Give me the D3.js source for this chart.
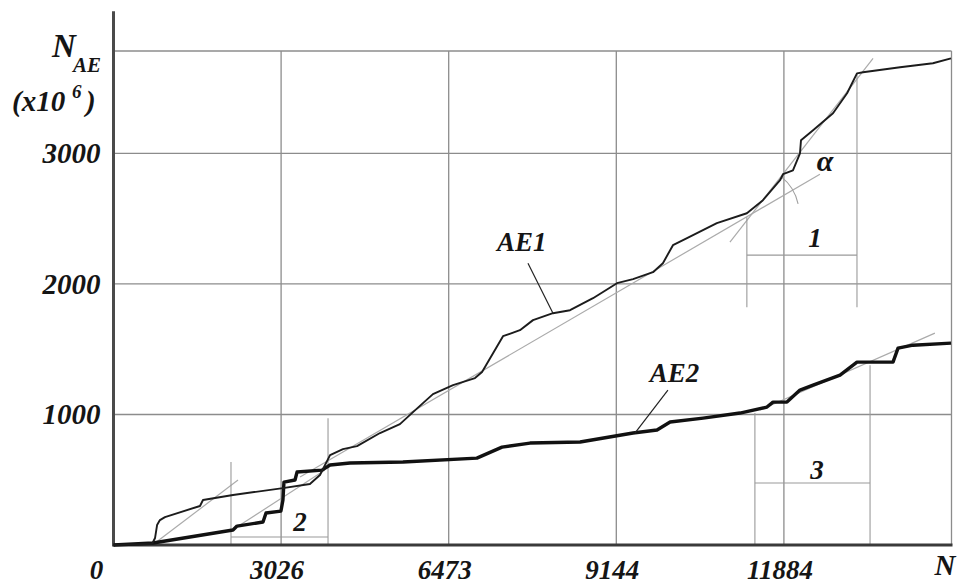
<!DOCTYPE html>
<html><head><meta charset="utf-8">
<script src="https://cdn.jsdelivr.net/npm/d3@7"></script>
<style>
body{margin:0;background:#fff}
svg{display:block}
text{font-family:"Liberation Serif","Times New Roman",serif;font-style:italic;font-weight:bold;fill:#151515}
</style>
</head><body><svg id="c" width="958" height="587"></svg>
<script>
// x is the position along N in grid intervals (0..5); tick labels give the N values at the grid lines
const xTickPos = [0, 1, 2, 3, 4];
const xTickLabels = ["0", "3026", "6473", "9144", "11884"];
const xGrid = [1, 2, 3, 4, 5];
const yTicks = [1000, 2000, 3000];
const yGrid = [1000, 2000, 3000, 3785];
const yTop = 3785;
const yAxisTop = 4090;

// AE1 cumulative count (x10^6)
const ae1X = [0, 0.23, 0.248, 0.26, 0.277, 0.307, 0.516, 0.534, 0.713, 1.011, 1.172, 1.232, 1.292, 1.369, 1.453, 1.59, 1.709, 1.787, 1.906, 2.026, 2.157, 2.199, 2.324, 2.425, 2.503, 2.622, 2.724, 2.861, 3.004, 3.1, 3.219, 3.278, 3.338, 3.422, 3.6, 3.779, 3.875, 3.977, 3.995, 4.054, 4.096, 4.102, 4.174, 4.293, 4.377, 4.436, 4.472, 4.693, 4.889, 4.997];
const ae1Y = [0, 8, 54, 153, 191, 214, 299, 345, 383, 436, 467, 536, 689, 735, 758, 858, 926, 1018, 1156, 1225, 1279, 1325, 1600, 1646, 1723, 1776, 1799, 1891, 2006, 2037, 2090, 2159, 2297, 2351, 2466, 2542, 2642, 2795, 2841, 2871, 3001, 3101, 3178, 3308, 3461, 3614, 3622, 3660, 3691, 3729];

// AE2 cumulative count (x10^6)
const ae2X = [0, 0.236, 0.713, 0.737, 0.892, 0.91, 0.999, 1.011, 1.017, 1.083, 1.095, 1.244, 1.292, 1.411, 1.727, 2.168, 2.318, 2.485, 2.784, 3.1, 3.243, 3.321, 3.518, 3.738, 3.899, 3.935, 4.018, 4.096, 4.174, 4.335, 4.436, 4.651, 4.681, 4.77, 4.997];
const ae2Y = [0, 15, 115, 145, 176, 245, 260, 345, 482, 498, 559, 574, 613, 628, 636, 666, 750, 781, 789, 858, 881, 942, 972, 1011, 1057, 1095, 1095, 1187, 1225, 1302, 1401, 1401, 1508, 1531, 1547];

// tangent (gray) lines: [x1, y1, x2, y2]
const tangents = [
  [0.248, 15, 0.743, 498],
  [0.755, 153, 1.262, 574],
  [1.113, 521, 4.215, 2841],
  [3.678, 2320, 4.532, 3729],
  [3.857, 1034, 4.901, 1623]
];
// interval brackets: [xLeft, xRight, yBar, yLeftTop, yRightTop, yBottom]
const brackets = [
  [3.779, 4.436, 2221, 2512, 3614, 1822],
  [0.701, 1.280, 61, 636, 972, 0],
  [3.827, 4.514, 475, 1011, 1378, 0]
];
const bracketLabels = ["1", "2", "3"];
const bracketLabelX = [4.186, 1.113, 4.198];
const bracketLabelY = [2351, 176, 574];

const svg = d3.select("#c");
const x = d3.scaleLinear().domain([0, 5]).range([113.5, 951.5]);
const y = d3.scaleLinear().domain([0, yTop]).range([545, 51]);

// grid
const g = svg.append("g").attr("stroke", "#8c8c8c").attr("stroke-width", 1.3);
g.selectAll(".vg").data(xGrid).join("line")
  .attr("x1", d => x(d)).attr("x2", d => x(d)).attr("y1", y(0)).attr("y2", y(yTop));
g.selectAll(".hg").data(yGrid).join("line")
  .attr("x1", x(0)).attr("x2", x(5)).attr("y1", d => y(d)).attr("y2", d => y(d));

// tangents
svg.append("g").attr("stroke", "#ababab").attr("stroke-width", 1.2)
  .selectAll("line").data(tangents).join("line")
  .attr("x1", d => x(d[0])).attr("y1", d => y(d[1])).attr("x2", d => x(d[2])).attr("y2", d => y(d[3]));

// brackets
const bg = svg.append("g").attr("stroke", "#9a9a9a").attr("stroke-width", 1.1).attr("fill", "none");
brackets.forEach(b => {
  bg.append("line").attr("x1", x(b[0])).attr("x2", x(b[0])).attr("y1", y(b[3])).attr("y2", y(b[5]));
  bg.append("line").attr("x1", x(b[1])).attr("x2", x(b[1])).attr("y1", y(b[4])).attr("y2", y(b[5]));
  bg.append("line").attr("x1", x(b[0])).attr("x2", x(b[1])).attr("y1", y(b[2])).attr("y2", y(b[2]));
});

// alpha arc at intersection of tangents 3 and 4
(function(){
  const t3 = tangents[2], t4 = tangents[3];
  const p = (t) => [x(t[0]), y(t[1]), x(t[2]), y(t[3])];
  const [a1, b1, a2, b2] = p(t3), [c1, d1, c2, d2] = p(t4);
  const m1 = (b2 - b1) / (a2 - a1), m2 = (d2 - d1) / (c2 - c1);
  const cx = (d1 - b1 + m1 * a1 - m2 * c1) / (m1 - m2), cy = b1 + m1 * (cx - a1);
  const r = 47, s = -52 * Math.PI / 180, e = -12 * Math.PI / 180;
  bg.append("path").attr("d", `M${cx + r*Math.cos(s)},${cy + r*Math.sin(s)} A${r},${r} 0 0 1 ${cx + r*Math.cos(e)},${cy + r*Math.sin(e)}`)
    .attr("stroke", "#a0a0a0");
})();

// axes
svg.append("line").attr("x1", x(0)).attr("x2", x(0)).attr("y1", y(0) + 1.5).attr("y2", y(yAxisTop))
  .attr("stroke", "#4a4a4a").attr("stroke-width", 3);
svg.append("line").attr("x1", x(0)).attr("x2", x(5) + 1).attr("y1", y(0)).attr("y2", y(0))
  .attr("stroke", "#3a3a3a").attr("stroke-width", 3);

// curves
const line = d3.line().x(d => x(d[0])).y(d => y(d[1]));
svg.append("path").datum(d3.zip(ae2X, ae2Y)).attr("d", line)
  .attr("fill", "none").attr("stroke", "#111").attr("stroke-width", 3.4).attr("stroke-linejoin", "round");
svg.append("path").datum(d3.zip(ae1X, ae1Y)).attr("d", line)
  .attr("fill", "none").attr("stroke", "#1c1c1c").attr("stroke-width", 1.9).attr("stroke-linejoin", "round");

// leaders
const lg = svg.append("g").attr("stroke", "#222").attr("stroke-width", 1.2);
lg.append("line").attr("x1", x(2.473)).attr("y1", y(2159)).attr("x2", x(2.622)).attr("y2", y(1776));
lg.append("line").attr("x1", x(3.308)).attr("y1", y(1187)).attr("x2", x(3.111)).attr("y2", y(858));

// labels
svg.append("text").attr("x", x(2.288)).attr("y", y(2251)).attr("font-size", 27).text("AE1");
svg.append("text").attr("x", x(3.2)).attr("y", y(1248)).attr("font-size", 27).text("AE2");
svg.selectAll(".bl").data(bracketLabels).join("text")
  .attr("x", (d, i) => x(bracketLabelX[i])).attr("y", (d, i) => y(bracketLabelY[i]) + 9)
  .attr("text-anchor", "middle").attr("font-size", 27).text(d => d);
svg.append("text").attr("x", x(4.245)).attr("y", y(2925) + 8).attr("text-anchor", "middle")
  .attr("font-size", 30).text("α");

// y tick labels
svg.selectAll(".yt").data(yTicks).join("text")
  .attr("x", x(0) - 13).attr("y", d => y(d) + 10).attr("text-anchor", "end")
  .attr("font-size", 29).text(d => d);
// x tick labels
svg.selectAll(".xt").data(xTickPos).join("text")
  .attr("x", d => d === 0 ? x(d) - 17 : x(d) - 4).attr("y", 579).attr("text-anchor", "middle")
  .attr("font-size", 27).text((d, i) => xTickLabels[i]);
svg.append("text").attr("x", 945).attr("y", 575).attr("text-anchor", "middle").attr("font-size", 29).text("N");

// y axis title
svg.append("text").attr("x", 52).attr("y", 57).attr("font-size", 33).text("N");
svg.append("text").attr("x", 73).attr("y", 72).attr("font-size", 21).text("AE");
svg.append("text").attr("x", 12).attr("y", 111).attr("font-size", 29).text("(x10");
svg.append("text").attr("x", 72).attr("y", 98).attr("font-size", 19).text("6");
svg.append("text").attr("x", 86).attr("y", 111).attr("font-size", 29).text(")");
</script>
</body></html>
